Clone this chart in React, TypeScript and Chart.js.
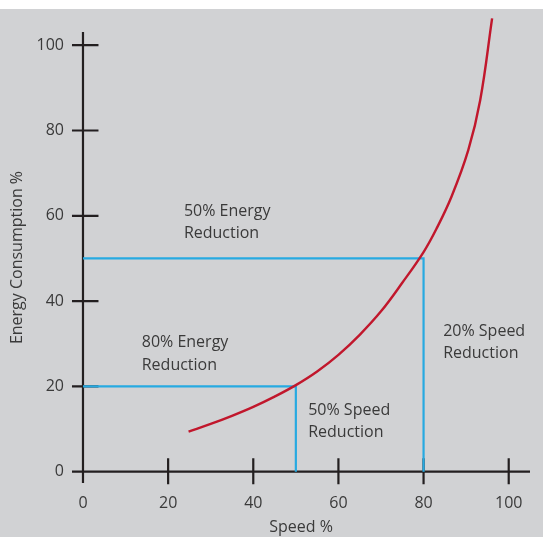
import React, { useEffect, useRef } from "react";
import { Chart, registerables } from "chart.js";

Chart.register(...registerables);

// ---- data ----
const speedTicks = [0, 20, 40, 60, 80, 100];
const energyTicks = [0, 20, 40, 60, 80, 100];

const curveSpeed = [24.8, 30, 35, 40, 45, 50, 55, 60, 65, 70, 75, 80, 83, 86.6, 90.5, 93.3, 96.1];
const curveEnergy = [9.4, 11.2, 13.1, 15.2, 17.6, 20.3, 23.5, 27.4, 32.1, 37.6, 44.3, 51.5, 56.9, 64.6, 75.4, 87.1, 106.3];

const cut50Speed = [0, 80, 80];
const cut50Energy = [50, 50, 0];
const cut80Speed = [0, 50, 50];
const cut80Energy = [20, 20, 0];

const noteLines = [
  ["50% Energy", "Reduction"],
  ["80% Energy", "Reduction"],
  ["50% Speed", "Reduction"],
  ["20% Speed", "Reduction"],
];
const noteSpeed = [23.7, 13.8, 52.9, 84.6];
const noteEnergy = [61.1, 30.2, 14.4, 33.0];

const xTitle = "Speed %";
const yTitle = "Energy Consumption %";

const FONT = '"Open Sans", "Noto Sans", sans-serif';
const TEXT = "#3a3a3a";
const AXIS = "#231f20";

const toPoints = (xs: number[], ys: number[]) => xs.map((x, i) => ({ x, y: ys[i] }));

const axesPlugin = {
  id: "crossAxes",
  beforeDatasetsDraw(chart: any) {
    const { ctx, chartArea } = chart;
    const xs = chart.scales.x;
    const ys = chart.scales.y;
    const x0 = xs.getPixelForValue(0);
    const y0 = ys.getPixelForValue(0);
    ctx.save();
    ctx.strokeStyle = AXIS;
    ctx.lineWidth = 2.2;
    ctx.beginPath();
    ctx.moveTo(chartArea.left, y0);
    ctx.lineTo(chartArea.right, y0);
    ctx.moveTo(x0, chartArea.top);
    ctx.lineTo(x0, chartArea.bottom);
    speedTicks.forEach((v) => {
      if (v === 0) return;
      const px = xs.getPixelForValue(v);
      ctx.moveTo(px, y0 - 13.5);
      ctx.lineTo(px, y0 + 12.5);
    });
    energyTicks.forEach((v) => {
      if (v === 0) return;
      const py = ys.getPixelForValue(v);
      ctx.moveTo(x0 - 11, py);
      ctx.lineTo(x0 + 15.5, py);
    });
    ctx.stroke();
    ctx.restore();
  },
};

const notesPlugin = {
  id: "notes",
  afterDatasetsDraw(chart: any) {
    const { ctx } = chart;
    const xs = chart.scales.x;
    const ys = chart.scales.y;
    ctx.save();
    ctx.font = `16px ${FONT}`;
    ctx.fillStyle = TEXT;
    ctx.textAlign = "left";
    ctx.textBaseline = "middle";
    noteLines.forEach((lines, i) => {
      const px = xs.getPixelForValue(noteSpeed[i]);
      const py = ys.getPixelForValue(noteEnergy[i]);
      lines.forEach((t, j) => ctx.fillText(t, px, py + j * 22.5));
    });
    ctx.restore();
  },
};

export default function App() {
  const ref = useRef<HTMLCanvasElement>(null);

  useEffect(() => {
    if (!ref.current) return;
    const chart = new Chart(ref.current, {
      type: "scatter",
      data: {
        datasets: [
          {
            data: toPoints(curveSpeed, curveEnergy),
            showLine: true,
            borderColor: "#c1172c",
            borderWidth: 2.4,
            tension: 0.4,
            pointRadius: 0,
            clip: false as any,
          },
          {
            data: toPoints(cut50Speed, cut50Energy),
            showLine: true,
            borderColor: "#27aae1",
            borderWidth: 2.2,
            pointRadius: 0,
          },
          {
            data: toPoints(cut80Speed, cut80Energy),
            showLine: true,
            borderColor: "#27aae1",
            borderWidth: 2.2,
            pointRadius: 0,
          },
        ],
      },
      options: {
        animation: false,
        responsive: false,
        layout: { padding: { top: 23, right: 13, left: 0, bottom: 0 } },
        plugins: { legend: { display: false }, tooltip: { enabled: false } },
        events: [],
        scales: {
          x: {
            type: "linear",
            min: -2.58,
            max: 105,
            afterBuildTicks: (s: any) => {
              s.ticks = speedTicks.map((v) => ({ value: v }));
            },
            afterFit: (s: any) => {
              s.height = 54;
            },
            grid: { display: false, drawTicks: false, tickLength: 0 },
            border: { display: false },
            ticks: {
              padding: 11,
              autoSkip: false,
              maxRotation: 0,
              color: TEXT,
              font: { family: FONT, size: 16 },
            },
            title: {
              display: true,
              text: xTitle,
              color: TEXT,
              font: { family: FONT, size: 16 },
              padding: { top: 0, bottom: 0 },
            },
          },
          y: {
            type: "linear",
            min: -2.65,
            max: 103.1,
            afterBuildTicks: (s: any) => {
              s.ticks = energyTicks.map((v) => ({ value: v }));
            },
            afterFit: (s: any) => {
              s.width = 72;
            },
            grid: { display: false, drawTicks: false, tickLength: 0 },
            border: { display: false },
            ticks: {
              padding: 8,
              autoSkip: false,
              color: TEXT,
              font: { family: FONT, size: 16 },
            },
            title: {
              display: true,
              text: yTitle,
              color: TEXT,
              font: { family: FONT, size: 16 },
              padding: { top: 8, bottom: 0 },
            },
          },
        },
      } as any,
      plugins: [axesPlugin, notesPlugin],
    });
    return () => chart.destroy();
  }, []);

  return (
    <div
      style={{
        position: "absolute",
        left: 0,
        top: 9,
        width: 543,
        height: 528,
        background: "#d1d2d4",
      }}
    >
      <canvas ref={ref} width={543} height={528} style={{ display: "block" }} />
    </div>
  );
}
